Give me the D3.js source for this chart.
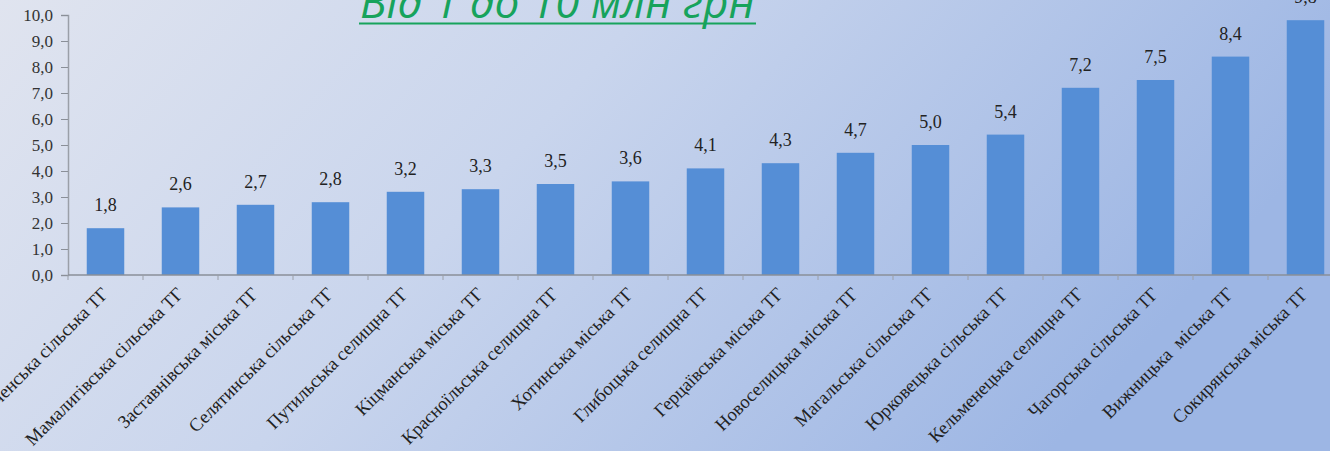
<!DOCTYPE html>
<html>
<head>
<meta charset="utf-8">
<script src="https://cdn.jsdelivr.net/npm/d3@7"></script>
<style>
  html, body { margin: 0; padding: 0; overflow: hidden; }
  body { width: 1330px; height: 451px; }
</style>
</head>
<body>
<svg id="chart" width="1330" height="451"></svg>
<script>
const categories = [
  "Тереблеченська сільська ТГ",
  "Мамалигівська сільська ТГ",
  "Заставнівська міська ТГ",
  "Селятинська сільська ТГ",
  "Путильська селищна ТГ",
  "Кіцманська міська ТГ",
  "Красноїльська селищна ТГ",
  "Хотинська міська ТГ",
  "Глибоцька селищна ТГ",
  "Герцаївська міська ТГ",
  "Новоселицька міська ТГ",
  "Магальська сільська ТГ",
  "Юрковецька сільська ТГ",
  "Кельменецька селищна ТГ",
  "Чагорська сільська ТГ",
  "Вижницька  міська ТГ",
  "Сокирянська міська ТГ"
];
const values = [1.8, 2.6, 2.7, 2.8, 3.2, 3.3, 3.5, 3.6, 4.1, 4.3, 4.7, 5.0, 5.4, 7.2, 7.5, 8.4, 9.8];
const yTicks = [0, 1, 2, 3, 4, 5, 6, 7, 8, 9, 10];
const titleText = "Від 1 до 10 млн грн";

const svg = d3.select("#chart");
const W = 1330, H = 451;

// background gradient
const defs = svg.append("defs");
const grad = defs.append("linearGradient").attr("id", "bg")
  .attr("x1", "0%").attr("y1", "0%").attr("x2", "100%").attr("y2", "30%");
grad.append("stop").attr("offset", "0%").attr("stop-color", "#e0e4ef");
grad.append("stop").attr("offset", "45%").attr("stop-color", "#c9d5ed");
grad.append("stop").attr("offset", "100%").attr("stop-color", "#9db6e4");
svg.append("rect").attr("width", W).attr("height", H).attr("fill", "url(#bg)");

const x0 = 68, yTop = 15, yBase = 275;
const x = d3.scaleBand().domain(categories).range([x0, x0 + 75 * 17])
  .paddingInner(0.5).paddingOuter(0.25);
const y = d3.scaleLinear().domain([0, 10]).range([yBase, yTop]);

const loc = d3.formatLocale({decimal: ",", thousands: " ", grouping: [3], currency: ["", ""]});
const fmt = loc.format(".1f");

// bars
svg.append("g").selectAll("rect").data(values).join("rect")
  .attr("x", (d, i) => x(categories[i]))
  .attr("y", d => y(d))
  .attr("width", x.bandwidth())
  .attr("height", d => y(0) - y(d))
  .attr("fill", "#558ed6");

// value labels
svg.append("g").selectAll("text").data(values).join("text")
  .attr("x", (d, i) => x(categories[i]) + x.bandwidth() / 2)
  .attr("y", d => y(d) - 17)
  .attr("text-anchor", "middle")
  .attr("font-family", "Liberation Serif, Times New Roman, serif")
  .attr("font-size", 18)
  .attr("fill", "#222")
  .text(d => fmt(d));

// y axis
const yAxis = d3.axisLeft(y).tickValues(yTicks).tickFormat(d => fmt(d)).tickSize(7).tickPadding(8);
const gy = svg.append("g").attr("transform", `translate(${x0},0)`).call(yAxis);
gy.select(".domain").attr("stroke", "#9a9fa8").attr("stroke-width", 1.5);
gy.selectAll(".tick line").attr("stroke", "#8a8f98");
gy.selectAll(".tick text").attr("font-family", "Liberation Serif, Times New Roman, serif")
  .attr("font-size", 17).attr("fill", "#333");

// x axis line + boundary ticks
const gx = svg.append("g");
gx.append("line").attr("x1", x0).attr("x2", W).attr("y1", yBase).attr("y2", yBase)
  .attr("stroke", "#8a8f98").attr("stroke-width", 1.5);
gx.selectAll("line.t").data(d3.range(categories.length + 1)).join("line")
  .attr("class", "t")
  .attr("x1", i => x0 + x.step() * i).attr("x2", i => x0 + x.step() * i)
  .attr("y1", yBase).attr("y2", yBase + 5)
  .attr("stroke", "#9a9fa8").attr("stroke-width", 1);

// x labels rotated
svg.append("g").selectAll("text").data(categories).join("text")
  .attr("transform", d => `translate(${x(d) + x.bandwidth() / 2 + 4},${yBase + 20}) rotate(-45)`)
  .attr("text-anchor", "end")
  .attr("font-family", "Liberation Serif, Times New Roman, serif")
  .attr("font-size", 18.5)
  .attr("fill", "#222")
  .style("white-space", "pre")
  .attr("xml:space", "preserve")
  .text(d => d);

// title
const title = svg.append("text")
  .attr("x", 360).attr("y", 18)
  .attr("font-family", "Open Sans, Liberation Sans, sans-serif")
  .attr("font-style", "italic")
  .attr("font-size", 30)
  .attr("fill", "#17a35c")
  .text(titleText);
const tw = title.node().getComputedTextLength();
title.attr("font-size", 30 * 395 / tw);
svg.append("line").attr("x1", 359).attr("x2", 756).attr("y1", 23.5).attr("y2", 23.5)
  .attr("stroke", "#17a35c").attr("stroke-width", 2);
</script>
</body>
</html>
